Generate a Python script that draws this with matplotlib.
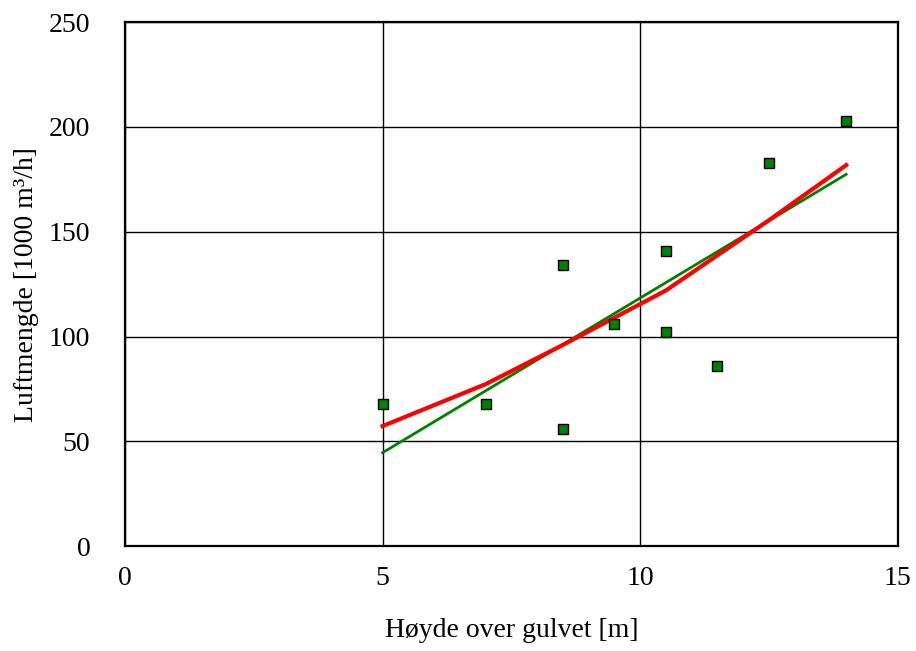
import matplotlib.pyplot as plt

plt.rcParams['font.family'] = ['Liberation Serif', 'DejaVu Serif']

# measured points
height = [5, 7, 8.5, 8.5, 9.5, 10.5, 10.5, 11.5, 12.5, 14]
airflow = [68, 68, 134, 56, 106, 141, 102, 86, 183, 203]

# red curve
red_x = [5, 7, 8.5, 10.5, 12.5, 14]
red_y = [57.3, 77.3, 96, 122, 155.5, 181.8]

# green linear trend endpoints
green_x = [5, 14]
green_y = [44.6, 177.4]

fig = plt.figure(figsize=(9.16, 6.51), dpi=100)
ax = fig.add_axes([0.1365, 0.161, 0.8435, 0.805])

ax.plot(green_x, green_y, color='#008000', lw=2, zorder=3)
ax.plot(red_x, red_y, color='#ff0000', lw=3, zorder=4)
ax.plot(height, airflow, 's', color='#008000', markeredgecolor='black',
        markeredgewidth=1, markersize=7.5, zorder=5)

ax.set_xlim(0, 15)
ax.set_ylim(0, 250)
ax.set_xticks([0, 5, 10, 15])
ax.set_yticks([0, 50, 100, 150, 200, 250])
ax.grid(True, color='black', lw=1)
ax.set_axisbelow(True)
for s in ax.spines.values():
    s.set_linewidth(1.6)
    s.set_color('black')
ax.tick_params(axis='x', length=0, pad=14, labelsize=20)
ax.tick_params(axis='y', length=0, pad=25, labelsize=20)
ax.set_xlabel('Høyde over gulvet [m]', fontsize=20, labelpad=20)
ax.set_ylabel('Luftmengde [1000 m³/h]', fontsize=20, labelpad=7)

fig.savefig('out.png', dpi=100)
